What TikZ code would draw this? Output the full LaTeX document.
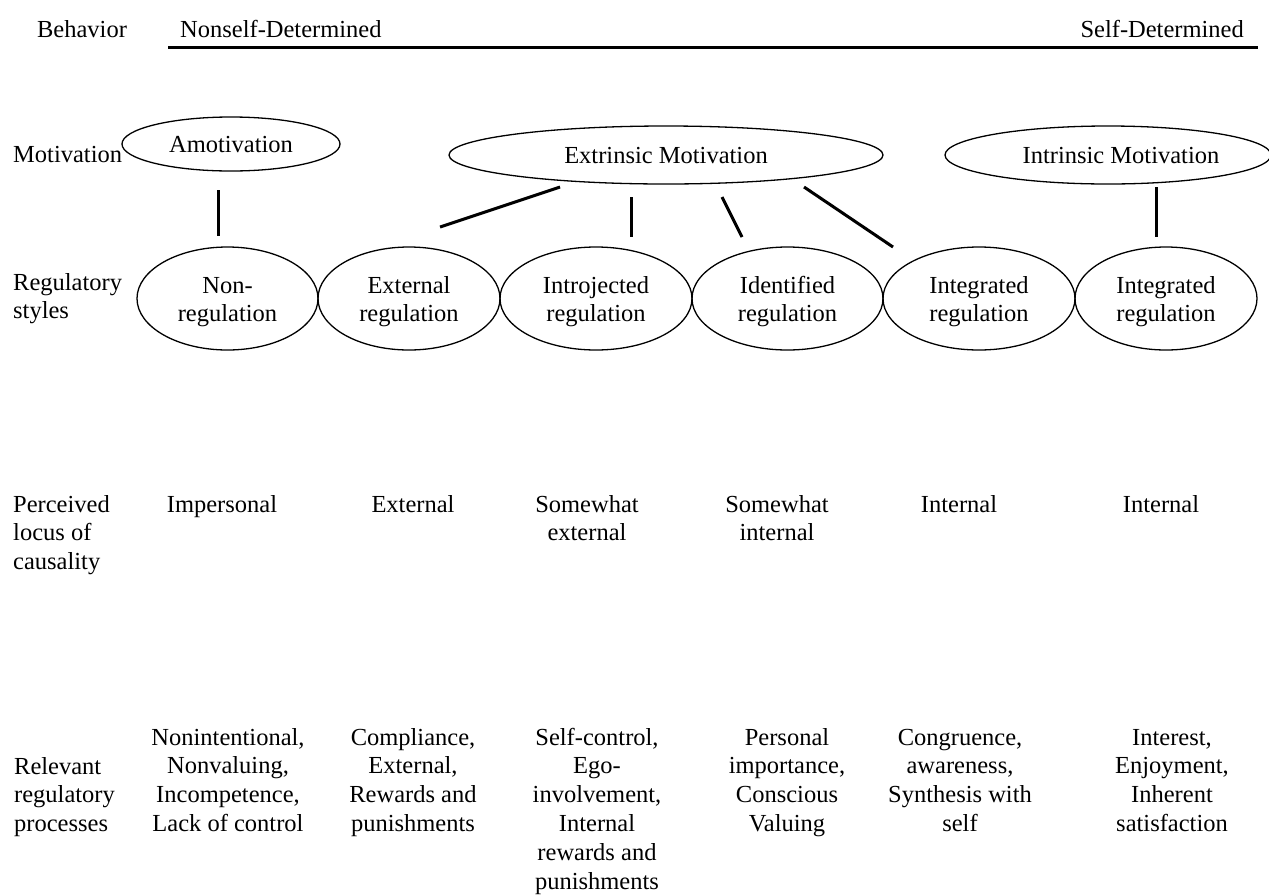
\documentclass[tikz,border=0pt]{standalone}
\usepackage{fontspec}
\setmainfont{Liberation Serif}
\usetikzlibrary{shapes.geometric}
% stacked lines whose baseline is that of the first line
\newcommand\clines[1]{\begin{tabular}[t]{@{}c@{}}#1\end{tabular}}
\newcommand\llines[1]{\begin{tabular}[t]{@{}l@{}}#1\end{tabular}}
\begin{document}
\begin{tikzpicture}[x=1pt,y=-1pt,
  every node/.style={font=\fontsize{24.5}{28.8}\selectfont, inner sep=0pt},
  oval/.style={ellipse, draw, line width=1.3pt},
  regoval/.style={oval, minimum height=103pt},
  link/.style={line width=3pt},
  rowlabel/.style={anchor=base west},
  cell/.style={anchor=base}]
\useasboundingbox[fill=white] (0,0) rectangle (1269,895);

% behaviour continuum
\node[anchor=base] (beh) at (82,37) {Behavior};
\node[anchor=base west] (nsd) at (180,37) {Nonself-Determined};
\node[anchor=base east] (sd) at (1244,37) {Self-Determined};
\coordinate (ruleL) at (168,47);
\coordinate (ruleR) at (1258,47);
\draw[link] (ruleL) -- (ruleR);

% motivation types
\node[anchor=base west] (motlab) at (13,162) {Motivation};
\node[oval, minimum width=218pt, minimum height=54pt] (amot) at (231,144) {};
\node[cell] (amot-t) at (231,152) {Amotivation};
\node[oval, minimum width=434pt, minimum height=58pt] (extr) at (666,155) {};
\node[cell] (extr-t) at (666,163) {Extrinsic Motivation};
\node[oval, minimum width=326pt, minimum height=58pt] (intr) at (1108,155) {};
\node[cell] (intr-t) at (1121,163) {Intrinsic Motivation};

% regulatory styles
\node[rowlabel] (reglab) at (13,290) {\llines{Regulatory\\styles}};
\node[regoval, minimum width=181pt] (nonreg) at (227.5,298.5) {};
\node[regoval, minimum width=182pt] (extreg) at (409,298.5) {};
\node[regoval, minimum width=192pt] (introj) at (596,298.5) {};
\node[regoval, minimum width=191pt] (ident) at (787.5,298.5) {};
\node[regoval, minimum width=192pt] (integ) at (979,298.5) {};
\node[regoval, minimum width=182pt] (integb) at (1166,298.5) {};
\node[cell] (nonreg-t) at (nonreg.center |- 0,293) {\clines{Non-\\regulation}};
\node[cell] (extreg-t) at (extreg.center |- 0,293) {\clines{External\\regulation}};
\node[cell] (introj-t) at (introj.center |- 0,293) {\clines{Introjected\\regulation}};
\node[cell] (ident-t) at (ident.center |- 0,293) {\clines{Identified\\regulation}};
\node[cell] (integ-t) at (integ.center |- 0,293) {\clines{Integrated\\regulation}};
\node[cell] (integb-t) at (integb.center |- 0,293) {\clines{Integrated\\regulation}};

% connectors between the two rows
\coordinate (a1) at (218,190);  \coordinate (a2) at (218,236);
\coordinate (e1) at (560,187);  \coordinate (e2) at (440,227);
\coordinate (e3) at (631,197);  \coordinate (e4) at (631,237);
\coordinate (e5) at (722,197);  \coordinate (e6) at (742,237);
\coordinate (e7) at (804,187);  \coordinate (e8) at (893,247);
\coordinate (i1) at (1156,187); \coordinate (i2) at (1156,237);
\draw[link] (a1) -- (a2);
\draw[link] (e1) -- (e2);
\draw[link] (e3) -- (e4);
\draw[link] (e5) -- (e6);
\draw[link] (e7) -- (e8);
\draw[link] (i1) -- (i2);

% perceived locus of causality
\node[rowlabel] (loclab) at (13,512) {\llines{Perceived\\locus of\\causality}};
\node[cell] (loc1) at (222,512) {Impersonal};
\node[cell] (loc2) at (413,512) {External};
\node[cell] (loc3) at (587,512) {\clines{Somewhat\\external}};
\node[cell] (loc4) at (777,512) {\clines{Somewhat\\internal}};
\node[cell] (loc5) at (959,512) {Internal};
\node[cell] (loc6) at (1161,512) {Internal};

% relevant regulatory processes
\node[rowlabel] (proclab) at (14,774) {\llines{Relevant\\regulatory\\processes}};
\node[cell] (pr1) at (228,745) {\clines{Nonintentional,\\Nonvaluing,\\Incompetence,\\Lack of control}};
\node[cell] (pr2) at (413,745) {\clines{Compliance,\\External,\\Rewards and\\punishments}};
\node[cell] (pr3) at (597,745) {\clines{Self-control,\\Ego-\\involvement,\\Internal\\rewards and\\punishments}};
\node[cell] (pr4) at (787,745) {\clines{Personal\\importance,\\Conscious\\Valuing}};
\node[cell] (pr5) at (960,745) {\clines{Congruence,\\awareness,\\Synthesis with\\self}};
\node[cell] (pr6) at (1172,745) {\clines{Interest,\\Enjoyment,\\Inherent\\satisfaction}};
\end{tikzpicture}
\end{document}
